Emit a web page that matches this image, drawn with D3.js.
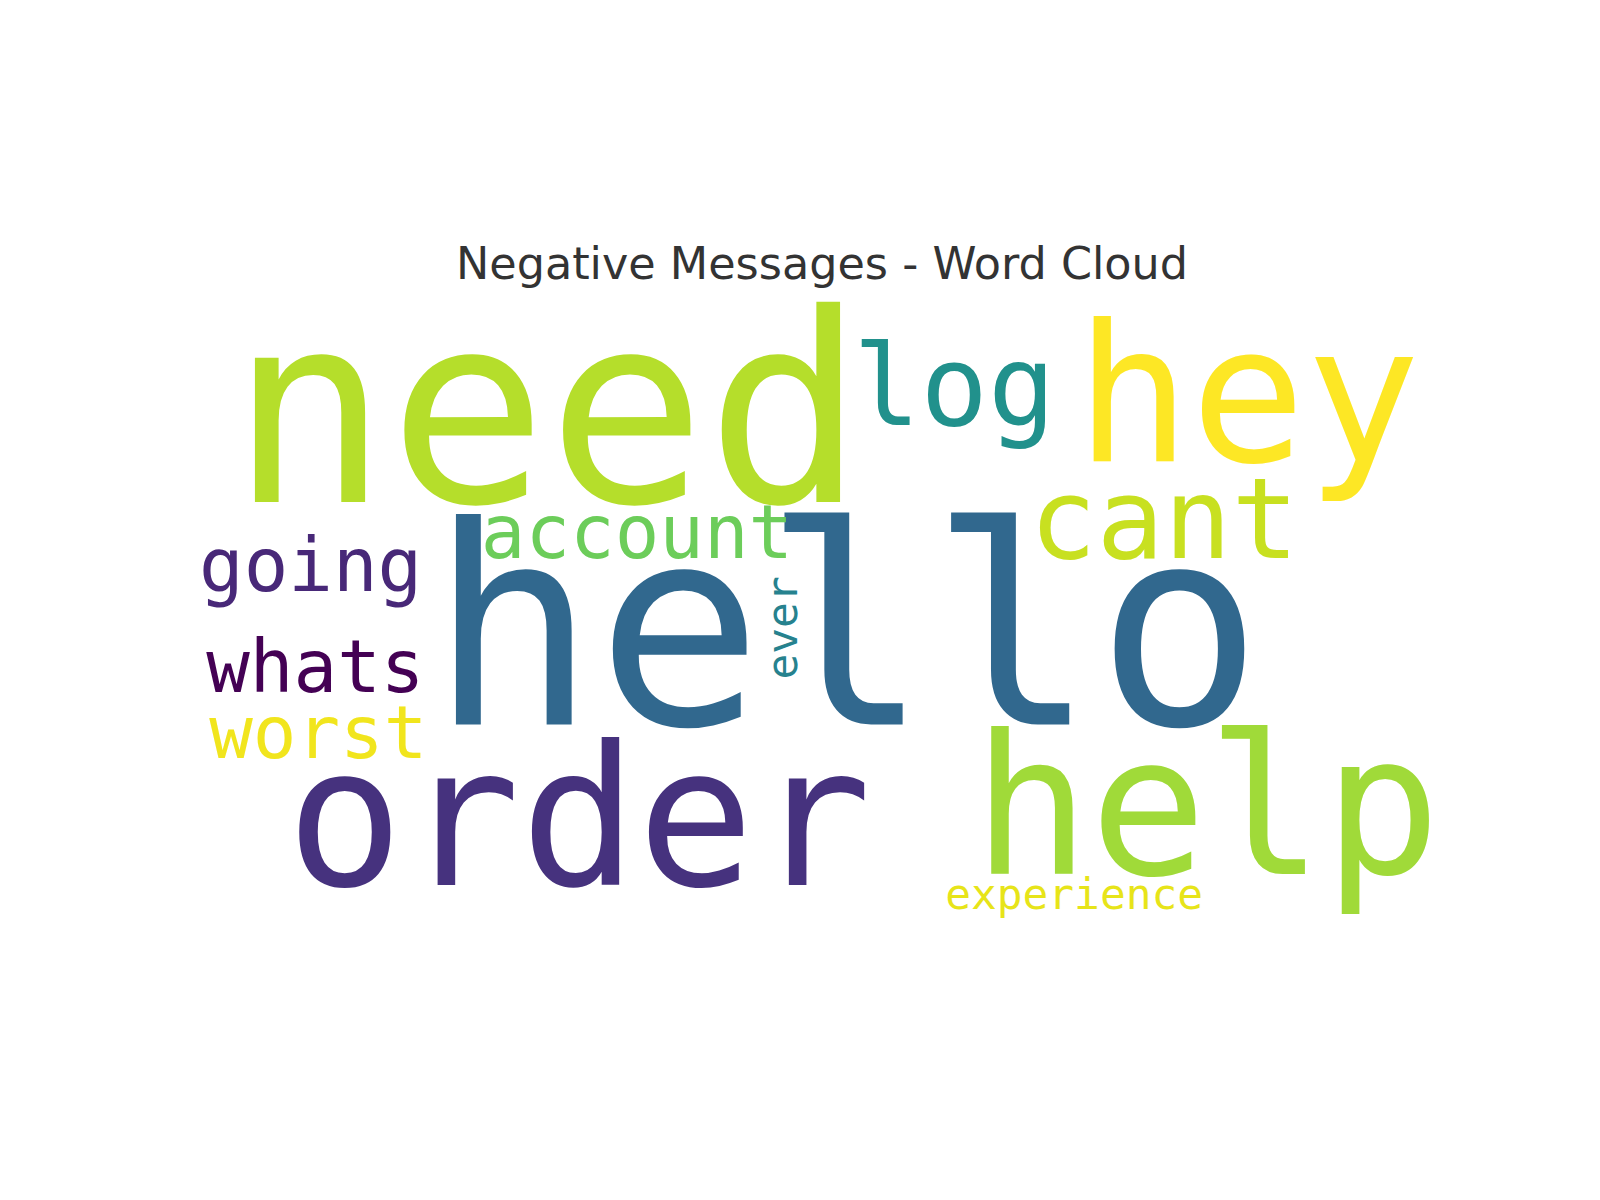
<html>
<meta charset="utf-8" />
<head>
<title>Negative Messages - Word Cloud</title>
<style>
body { margin: 0; background: #fff; }
svg text.word { font-family: "DejaVu Sans Mono", monospace; }
svg text.title { font-family: "DejaVu Sans", sans-serif; fill: #333; text-anchor: middle; }
</style>
<script src="https://cdn.jsdelivr.net/npm/d3@7"></script>
</head>
<body>
<svg class="chart"></svg>
<script>
var chartWidth = 1600;
var chartHeight = 1200;

// words as laid out on a 400 x 200 word cloud canvas
var words   = ["hello", "need", "order", "help", "hey", "log", "cant", "account", "going", "whats", "worst", "experience", "ever"];
var sizes   = [84, 80, 59, 59, 58, 34, 34, 22.5, 22.5, 22, 22, 13, 13];
var cloudX  = [82.8, 21.9, 39.1, 248.4, 279.7, 211.9, 265.6, 98.4, 12.5, 14.7, 15.6, 240, 194.7];
var cloudY  = [130.3, 62.5, 179.4, 176, 50, 39, 79.7, 79.7, 89.7, 120.3, 140.6, 186.6, 116.6];
var rotated = [0, 0, 0, 0, 0, 0, 0, 0, 0, 0, 0, 0, 1];
var colors  = ["#31688e", "#b5de2b", "#46327e", "#a0da39", "#fde725", "#21918c", "#c8e020",
               "#6ccd5a", "#482878", "#440154", "#f1e51d", "#e7e419", "#26828e"];

var x = d3.scaleLinear().domain([0, 400]).range([158, 1470]);
var y = d3.scaleLinear().domain([0, 200]).range([297, 953]);
var s = d3.scaleLinear().domain([0, 400]).range([0, 1318]);

var canvas = d3.select(".chart")
    .attr("width", chartWidth)
    .attr("height", chartHeight);

canvas.append("text")
    .attr("class", "title")
    .attr("x", 822)
    .attr("y", 279)
    .style("font-size", "44.5px")
    .text("Negative Messages - Word Cloud");

canvas.selectAll("text.word")
    .data(words)
  .enter().append("text")
    .attr("class", "word")
    .attr("transform", function(d, i) {
      return "translate(" + x(cloudX[i]) + "," + y(cloudY[i]) + ")" + (rotated[i] ? " rotate(-90)" : "");
    })
    .style("font-size", function(d, i) { return s(sizes[i]) + "px"; })
    .attr("fill", function(d, i) { return colors[i]; })
    .text(function(d) { return d; });
</script>
</body>
</html>
